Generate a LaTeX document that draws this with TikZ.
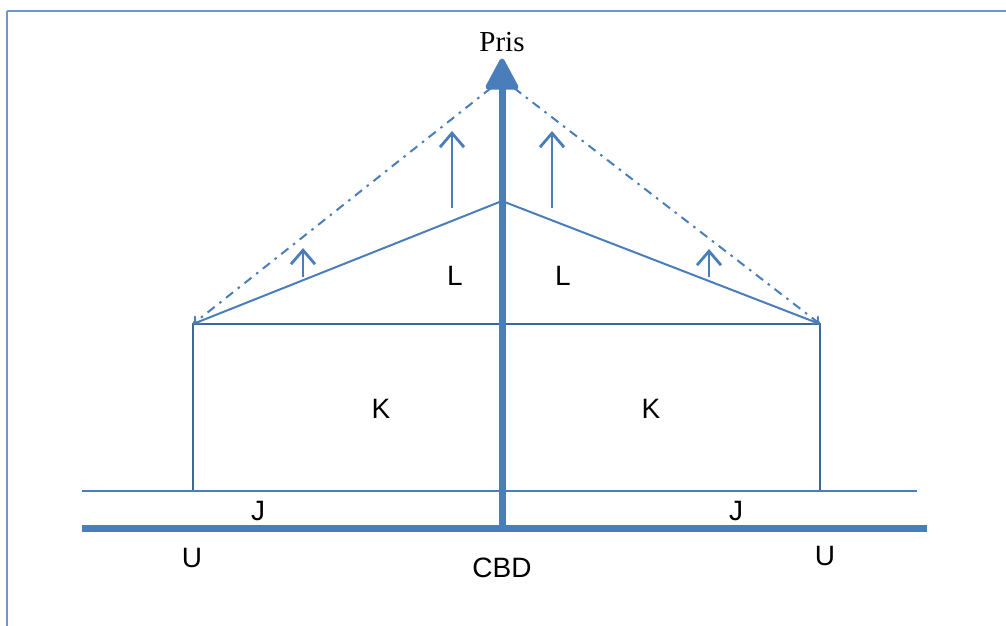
\documentclass[tikz,border=0pt]{standalone}
\usepackage{fontspec}
\setmainfont{Liberation Serif}
\setsansfont{Liberation Sans}
\usetikzlibrary{arrows.meta}
\definecolor{ob}{HTML}{4A7EBB}
\definecolor{od}{HTML}{3F6797}
\tikzset{
  lbl/.style={font=\sffamily\fontsize{28}{30}\selectfont, inner sep=0pt},
  thinline/.style={draw=ob, line width=2pt},
  darkline/.style={draw=od, line width=1.8pt},
  dashdotline/.style={draw=ob, line width=2pt, dash pattern=on 9pt off 6pt on 2.5pt off 6pt, -{To[length=7pt,width=11pt]}},
  smallup/.style={draw=ob, line width=2.8pt, -{Straight Barb[length=14pt,width=24pt]}},
  axishead/.style={fill=ob, draw=ob, line width=5pt, line join=round},
}
\begin{document}
\begin{tikzpicture}[x=1pt,y=-1pt]
\useasboundingbox (0,0) rectangle (1006,626);
\draw[ob!80, line width=2.6pt] (7,11) -- (1012,11);
\draw[ob!80, line width=2.6pt] (7,11) -- (7,632);
% coordinates
\coordinate (A) at (193,324);
\coordinate (B) at (820,324);
\coordinate (Apex) at (502,201);
\coordinate (A0) at (193,491);
\coordinate (B0) at (820,491);
\coordinate (DL) at (491,88);
\coordinate (DR) at (514,88);
% rectangle K
\draw[darkline] (A0) -- (A) -- (B) -- (B0);
% base line J
\coordinate (JL) at (82,491);
\coordinate (JR) at (917,491);
\draw[thinline] (JL) -- (JR);
% sloped lines
\draw[thinline] (A) -- (Apex) -- (B);
% dash-dot lines
\draw[dashdotline] (DL) -- (A);
\draw[dashdotline] (DR) -- (B);
% thick ground line
\coordinate (UL) at (82,528);
\coordinate (UR) at (927,528);
\draw[ob, line width=7pt] (UL) -- (UR);
% axis
\coordinate (Ax0) at (502,531);
\coordinate (Ax1) at (502,84);
\coordinate (HL) at (488,87);
\coordinate (HT) at (502,61);
\coordinate (HR) at (516,87);
\draw[ob, line width=7pt] (Ax0) -- (Ax1);
\path[axishead] (HL) -- (HT) -- (HR) -- cycle;
% small up arrows
\coordinate (s1a) at (452,208); \coordinate (s1b) at (452,131);
\coordinate (s2a) at (552,208); \coordinate (s2b) at (552,131);
\coordinate (s3a) at (303,277); \coordinate (s3b) at (303,248);
\coordinate (s4a) at (709,277); \coordinate (s4b) at (709,249);
\draw[smallup] (s1a) -- (s1b);
\draw[smallup] (s2a) -- (s2b);
\draw[smallup] (s3a) -- (s3b);
\draw[smallup] (s4a) -- (s4b);
% labels
\node[inner sep=0pt, font=\rmfamily\fontsize{29}{31}\selectfont] (pris) at (502,42) {Pris};
\node[lbl] (L1) at (455,276) {L};
\node[lbl] (L2) at (563,276) {L};
\node[lbl] (K1) at (381,409) {K};
\node[lbl] (K2) at (651,409) {K};
\node[lbl] (J1) at (258,511) {J};
\node[lbl] (J2) at (736,511) {J};
\node[lbl] (U1) at (192,558) {U};
\node[lbl] (U2) at (825,556) {U};
\node[lbl] (cbd) at (502,568) {CBD};
\end{tikzpicture}
\end{document}
